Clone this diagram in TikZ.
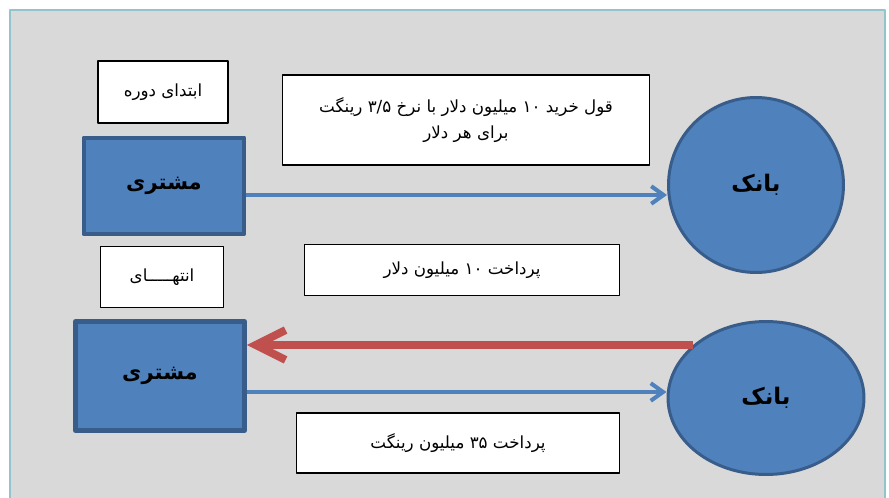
\documentclass[tikz,border=0pt]{standalone}
\usepackage{fontspec}
\newfontfamily\arabicfont[Script=Arabic]{DejaVu Sans}
\TeXXeTstate=1
\usetikzlibrary{arrows.meta,shapes.geometric}
\definecolor{bgray}{HTML}{D9D9D9}
\definecolor{frameteal}{HTML}{93C4CB}
\definecolor{boxblue}{HTML}{4F81BD}
\definecolor{edgeblue}{HTML}{385D8A}
\definecolor{arrred}{HTML}{C0504D}
\newcommand{\fa}[1]{\beginR #1\endR}
\begin{document}
\begin{tikzpicture}[x=.02cm,y=-.02cm, line join=round,
	txtbox/.style={draw=black,fill=white,line width=.8pt,align=center,
		font=\arabicfont\fontsize{9.5}{15}\selectfont},
	party/.style={rectangle,draw=edgeblue,fill=boxblue,line width=2.8pt,
		font=\arabicfont\bfseries\fontsize{12}{14}\selectfont},
	bluearrow/.style={draw=boxblue,line width=2.3pt,-{Straight Barb[length=7pt,width=10pt]}},
	redarrow/.style={draw=arrred,line width=4.5pt,-{Straight Barb[length=17pt,width=17pt]}}]
	\useasboundingbox (0,0) rectangle (889,497);
	\clip (0,0) rectangle (889,497);
	\fill[white] (0,0) rectangle (889,497);
	\draw[fill=bgray,draw=frameteal,line width=1.5pt] (10,10) rectangle (885,520);
	% first row
	\node[txtbox,minimum width=2.6cm,minimum height=1.24cm] (start) at (163,92) {\fa{ابتدای دوره}};
	\node[txtbox,minimum width=7.34cm,minimum height=1.8cm] (promise) at (466,120)
		{\fa{قول خرید ۱۰ میلیون دلار با نرخ ۳/۵ رینگت}\\ \fa{برای هر دلار}};
	\node[party,minimum width=3.2cm,minimum height=1.92cm] (cust1) at (164,186) {\fa{مشتری}};
	\node[party,circle,line width=1.7pt,minimum size=3.5cm,inner sep=0pt,font=\arabicfont\bfseries\fontsize{13}{15}\selectfont] (bank1) at (756,185) {\fa{بانک}};
	% second row
	\node[txtbox,minimum width=2.46cm,minimum height=1.22cm] (finish) at (162,277) {\fa{انتهـــــای}};
	\node[txtbox,minimum width=6.3cm,minimum height=1.02cm] (pay10) at (462,270) {\fa{پرداخت ۱۰ میلیون دلار}};
	\node[party,minimum width=3.38cm,minimum height=2.18cm] (cust2) at (160,376) {\fa{مشتری}};
	\node[party,ellipse,line width=1.7pt,minimum width=3.92cm,minimum height=3.06cm,inner sep=0pt,font=\arabicfont\bfseries\fontsize{13}{15}\selectfont] (bank2) at (766,398) {\fa{بانک}};
	\node[txtbox,minimum width=6.46cm,minimum height=1.2cm] (pay35) at (458,443) {\fa{پرداخت ۳۵ میلیون رینگت}};
	% arrows
	\draw[bluearrow] ([yshift=-.18cm]cust1.east) -- ([yshift=-.18cm]cust1.east -| bank1.west);
	\draw[redarrow] (bank2.144) -- (bank2.144 -| cust2.east);
	\draw[bluearrow] ([yshift=-.32cm]cust2.east) -- ([yshift=-.32cm]cust2.east -| bank2.west);
\end{tikzpicture}
\end{document}
